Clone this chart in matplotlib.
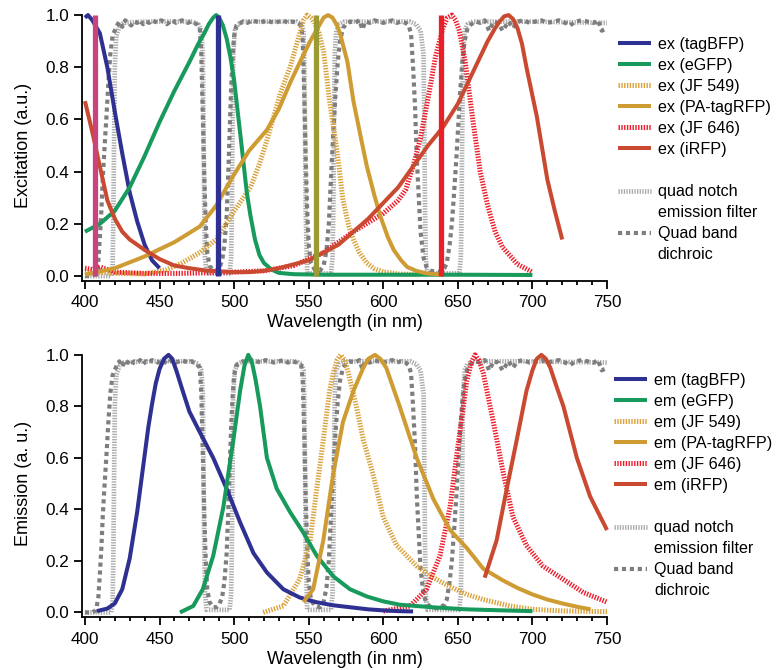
import matplotlib
matplotlib.use("Agg")
import matplotlib.pyplot as plt
from matplotlib.lines import Line2D

plt.rcParams["font.family"] = ["Liberation Sans", "DejaVu Sans"]

# ---- filters (same curves in both panels), one line per band ----
notch_nm = [400, 417.5, 418.5, 419, 419.5, 420, 421, 423, 426, 440, 460, 472, 476, 478, 479, 479.5,
            480, 480.5, 481.5, 497, 498, 498.5, 499, 499.5, 500.5, 502.5, 506, 530, 542, 545, 546.5,
            547, 547.5, 548, 549, 565, 566, 566.5, 567, 567.5, 568.5, 570.5, 574, 600, 618, 622,
            625, 627, 627.5, 628, 628.5, 629.5, 651, 652, 652.5, 653, 653.5, 654.5, 656.5, 660, 700, 750]
notch = [0.0, 0.0, 0.03, 0.2, 0.5, 0.8, 0.92, 0.955, 0.97, 0.975, 0.975, 0.975, 0.965, 0.94, 0.85, 0.6,
         0.25, 0.07, 0.01, 0.01, 0.07, 0.25, 0.6, 0.85, 0.94, 0.965, 0.975, 0.975, 0.975, 0.965, 0.94,
         0.85, 0.6, 0.25, 0.01, 0.01, 0.07, 0.25, 0.6, 0.85, 0.94, 0.965, 0.975, 0.975, 0.975, 0.965,
         0.94, 0.85, 0.6, 0.25, 0.07, 0.01, 0.01, 0.07, 0.25, 0.6, 0.85, 0.94, 0.965, 0.975, 0.975, 0.97]

dichroic_nm = [
    400, 405, 407.5, 409, 410, 411, 412, 413, 414.5, 415.7, 417, 418.5,
    421, 423, 425, 427, 429, 431, 433, 435, 437, 439, 441, 443, 445, 447, 449, 451, 453, 455, 457, 459,
    461, 463, 465, 467, 469, 471, 473, 475,
    477, 478, 479, 480, 481, 482, 483.5, 486, 488, 490, 492, 493.5, 495, 496, 497, 498, 499, 500, 501.5,
    503, 506, 509, 512, 515, 518, 521, 524, 527, 530, 533, 536, 539, 542,
    545, 546, 547, 548, 549, 550, 551.5, 554, 557.5, 560, 562, 563.5, 565, 566.5, 568, 569.5, 571, 573,
    575, 578, 581, 584, 586, 588, 591, 594, 597, 600, 603, 606, 609, 612, 615,
    617, 618.6, 620, 621.3, 622.5, 623.6, 625, 627, 629, 632, 637, 641, 642.6, 644.5, 646, 647.5, 649,
    650.3, 651.5, 653, 654.5, 656.5,
    659, 662, 665, 668, 671, 674, 677, 680, 684, 687, 690, 694, 698, 702, 706, 710, 714, 718, 722, 725,
    729, 733, 737, 741, 744, 746.5, 750,
]
dichroic = [
    0.0, 0.0, 0.01, 0.06, 0.15, 0.25, 0.38, 0.48, 0.62, 0.74, 0.85, 0.92,
    0.955, 0.975, 0.955, 0.98, 0.97, 0.96, 0.975, 0.97, 0.98, 0.965, 0.975, 0.97, 0.98, 0.975, 0.97,
    0.98, 0.975, 0.965, 0.975, 0.98, 0.97, 0.975, 0.98, 0.975, 0.97, 0.975, 0.97, 0.965,
    0.95, 0.85, 0.62, 0.38, 0.2, 0.09, 0.04, 0.02, 0.02, 0.03, 0.06, 0.12, 0.23, 0.38, 0.55, 0.72, 0.84,
    0.92, 0.96,
    0.965, 0.975, 0.97, 0.98, 0.975, 0.97, 0.98, 0.975, 0.97, 0.975, 0.98, 0.97, 0.975, 0.97,
    0.96, 0.9, 0.7, 0.45, 0.25, 0.12, 0.05, 0.025, 0.02, 0.04, 0.1, 0.2, 0.38, 0.55, 0.7, 0.82, 0.9, 0.95,
    0.965, 0.975, 0.97, 0.98, 0.945, 0.975, 0.97, 0.98, 0.975, 0.97, 0.975, 0.98, 0.97, 0.975, 0.97,
    0.96, 0.93, 0.8, 0.65, 0.45, 0.33, 0.17, 0.07, 0.035, 0.02, 0.015, 0.03, 0.05, 0.12, 0.2, 0.32, 0.45,
    0.58, 0.7, 0.82, 0.9, 0.95,
    0.965, 0.975, 0.97, 0.98, 0.94, 0.975, 0.97, 0.94, 0.975, 0.95, 0.975, 0.98, 0.97, 0.975, 0.98, 0.97,
    0.975, 0.98, 0.97, 0.96, 0.975, 0.98, 0.975, 0.97, 0.98, 0.94, 0.95,
]

# ---- lasers (top panel) ----
laser_nm = [407, 489, 555, 639]

# ---- excitation spectra ----
tagbfp_ex_nm = [400, 402, 405, 410, 415, 420, 425, 430, 435, 440, 445, 450]
tagbfp_ex = [0.99, 1.0, 0.98, 0.93, 0.80, 0.63, 0.47, 0.32, 0.21, 0.12, 0.06, 0.03]

egfp_ex_nm = [400, 410, 420, 430, 440, 450, 460, 470, 476, 480, 483, 486, 488, 490, 492.5, 495, 497.5,
              500, 505, 508.5, 511, 514, 517, 520, 525, 530, 540, 560, 600, 650, 700]
egfp_ex = [0.17, 0.20, 0.25, 0.34, 0.46, 0.59, 0.71, 0.82, 0.89, 0.93, 0.965, 0.99, 1.0, 0.99, 0.96,
           0.91, 0.84, 0.75, 0.50, 0.32, 0.23, 0.14, 0.08, 0.05, 0.025, 0.012, 0.007, 0.005, 0.005,
           0.005, 0.004]

jf549_ex_nm = [400, 420, 440, 455, 465, 477, 488, 499, 511, 517, 522, 531, 537.5, 541, 544, 546.5, 549,
               551.5, 554, 557, 560, 564, 569, 573, 577, 580, 584, 589, 594, 600, 610, 625]
jf549_ex = [0.02, 0.01, 0.008, 0.025, 0.05, 0.09, 0.14, 0.24, 0.34, 0.43, 0.52, 0.70, 0.80, 0.87, 0.93,
            0.98, 1.0, 0.99, 0.97, 0.93, 0.86, 0.67, 0.48, 0.29, 0.19, 0.14, 0.09, 0.05, 0.028, 0.016,
            0.008, 0.005]

patagrfp_ex_nm = [400, 420, 440, 460, 470, 477, 488, 499, 510, 522, 530, 537.5, 545, 551, 557, 560, 563,
                  566, 569, 571, 576, 580, 585, 589, 594, 598, 603, 607, 612, 616, 622, 629, 640]
patagrfp_ex = [0.005, 0.03, 0.075, 0.13, 0.165, 0.19, 0.27, 0.38, 0.48, 0.56, 0.64, 0.74, 0.83, 0.90,
               0.96, 0.99, 1.0, 0.99, 0.96, 0.93, 0.82, 0.67, 0.53, 0.42, 0.31, 0.23, 0.15, 0.10, 0.06,
               0.035, 0.02, 0.01, 0.005]

jf646_ex_nm = [400, 405, 410, 415, 420, 440, 460, 480, 500, 520, 540, 560, 580, 600, 610, 615, 620, 625,
               630, 635, 640, 643, 646, 648.5, 651, 655, 660, 665, 670, 675, 680, 690, 700]
jf646_ex = [0.03, 0.025, 0.035, 0.025, 0.015, 0.01, 0.01, 0.012, 0.015, 0.02, 0.04, 0.09, 0.17, 0.24,
            0.29, 0.33, 0.42, 0.53, 0.68, 0.84, 0.95, 0.99, 1.0, 0.98, 0.94, 0.82, 0.60, 0.40, 0.27,
            0.17, 0.11, 0.045, 0.015]

irfp_ex_nm = [400, 405, 410, 415, 420, 425, 430, 440, 450, 460, 470, 480, 490, 500, 510, 520, 530, 540,
              550, 560, 570, 580, 590, 600, 610, 620, 630, 640, 650, 660, 670, 675, 678, 681, 684, 687,
              690, 693, 696, 703, 710, 715, 720]
irfp_ex = [0.67, 0.55, 0.42, 0.29, 0.22, 0.17, 0.14, 0.10, 0.065, 0.04, 0.03, 0.022, 0.018, 0.015,
           0.015, 0.02, 0.03, 0.045, 0.06, 0.09, 0.12, 0.17, 0.22, 0.28, 0.34, 0.42, 0.50, 0.57, 0.66,
           0.78, 0.90, 0.95, 0.975, 0.995, 1.0, 0.985, 0.95, 0.89, 0.80, 0.61, 0.37, 0.25, 0.14]

# ---- emission spectra ----
tagbfp_em_nm = [408, 415, 420, 425, 430, 435, 440, 442.5, 445, 447.5, 450, 453, 456, 458.5, 461.5, 465,
                470, 477, 486, 495, 504, 513, 522, 533, 544, 555, 566, 578, 590, 600, 610, 620]
tagbfp_em = [0.005, 0.015, 0.035, 0.09, 0.21, 0.39, 0.61, 0.72, 0.81, 0.89, 0.945, 0.985, 1.0, 0.985,
             0.935, 0.87, 0.78, 0.70, 0.60, 0.48, 0.35, 0.23, 0.155, 0.09, 0.058, 0.04, 0.028, 0.02,
             0.012, 0.008, 0.005, 0.004]

egfp_em_nm = [463.7, 472.6, 479, 486, 492.8, 499.5, 504, 507, 509.5, 512, 514.5, 517.4, 522, 528.6, 537.5,
              546.4, 555.4, 566.5, 577.7, 589, 600, 611, 633, 656, 680, 700]
egfp_em = [0.0, 0.025, 0.09, 0.22, 0.41, 0.67, 0.86, 0.96, 1.0, 0.97, 0.90, 0.80, 0.60, 0.48, 0.39,
           0.31, 0.22, 0.14, 0.09, 0.062, 0.043, 0.03, 0.02, 0.012, 0.008, 0.005]

jf549_em_nm = [519.5, 533, 544, 551, 555.4, 559.8, 564, 566.5, 569, 571.5, 574, 576.6, 582, 586.6, 593,
               600, 609, 622.4, 633.6, 644.8, 656, 667, 685, 700, 720, 750]
jf549_em = [0.0, 0.025, 0.13, 0.28, 0.48, 0.67, 0.86, 0.93, 0.98, 1.0, 0.98, 0.93, 0.80, 0.67, 0.54,
            0.37, 0.26, 0.18, 0.135, 0.10, 0.07, 0.05, 0.025, 0.012, 0.006, 0.003]

patagrfp_em_nm = [546.4, 553, 559.8, 566.5, 573, 580, 586.6, 590, 594.5, 598, 602, 611, 622.4, 633.6,
                  644.8, 656, 667, 680, 690, 700, 710, 720, 730, 739]
patagrfp_em = [0.04, 0.09, 0.28, 0.54, 0.74, 0.86, 0.95, 0.985, 1.0, 0.985, 0.95, 0.80, 0.60, 0.44,
               0.32, 0.25, 0.17, 0.125, 0.095, 0.07, 0.05, 0.035, 0.022, 0.012]

jf646_em_nm = [600, 618, 629, 638, 644.8, 649, 653.7, 656, 659, 661.5, 664, 667, 673.8, 680.5, 687, 696,
               707, 720.8, 734, 750]
jf646_em = [0.005, 0.025, 0.09, 0.22, 0.41, 0.60, 0.80, 0.90, 0.97, 1.0, 0.98, 0.93, 0.74, 0.54, 0.37,
            0.26, 0.18, 0.128, 0.078, 0.04]

irfp_em_nm = [668, 676, 682.8, 689.5, 696, 700, 703, 706, 709, 712, 716, 720.8, 729.8, 738.7, 750]
irfp_em = [0.135, 0.28, 0.48, 0.67, 0.86, 0.94, 0.985, 1.0, 0.985, 0.95, 0.88, 0.80, 0.60, 0.45, 0.32]

names = ["tagBFP", "eGFP", "JF 549", "PA-tagRFP", "JF 646", "iRFP"]
ex_data = [(tagbfp_ex_nm, tagbfp_ex), (egfp_ex_nm, egfp_ex), (jf549_ex_nm, jf549_ex),
           (patagrfp_ex_nm, patagrfp_ex), (jf646_ex_nm, jf646_ex), (irfp_ex_nm, irfp_ex)]
em_data = [(tagbfp_em_nm, tagbfp_em), (egfp_em_nm, egfp_em), (jf549_em_nm, jf549_em),
           (patagrfp_em_nm, patagrfp_em), (jf646_em_nm, jf646_em), (irfp_em_nm, irfp_em)]

# styles
HATCH = (0, (0.28, 0.28))
DOTS = (0, (1, 0.9))
colors = ["#2E3192", "#179A5B", "#D9A23C", "#CF9B33", "#EE1C2B", "#C94A30"]
hatched = [False, False, True, False, True, False]
laser_colors = ["#C8457C", "#2E3192", "#9B9A33", "#E8202A"]
NOTCH_COLOR = "#A9A9A9"
DICHROIC_COLOR = "#7E7E7E"


def draw_panel(ax, data, prefix, ylabel, lasers):
    ax.plot(notch_nm, notch, color=NOTCH_COLOR, lw=3.4, linestyle=HATCH, zorder=1, clip_on=False)
    ax.plot(dichroic_nm, dichroic, color=DICHROIC_COLOR, lw=3.0, linestyle=DOTS, zorder=2, clip_on=False)
    handles = []
    for (nm, vals), name, col, hat in zip(data, names, colors, hatched):
        if hat:
            ln, = ax.plot(nm, vals, color=col, lw=3.6, linestyle=HATCH, zorder=3, clip_on=False)
        else:
            ln, = ax.plot(nm, vals, color=col, lw=2.9, solid_capstyle="butt", solid_joinstyle="round",
                          zorder=4, clip_on=False)
        ln.set_label(f"{prefix} ({name})")
        handles.append(ln)
    if lasers:
        for x, c in zip(laser_nm, laser_colors):
            ax.vlines(x, 0, 1.0, color=c, lw=3.8, zorder=5)

    ax.set_xlim(398, 750)
    ax.set_ylim(-0.018, 1.02)
    ax.spines["left"].set_bounds(-0.018, 1.0)
    for s in ["top", "right"]:
        ax.spines[s].set_visible(False)
    for s in ["left", "bottom"]:
        ax.spines[s].set_linewidth(1.3)
    ax.set_xticks(range(400, 751, 50))
    ax.set_xticks(range(400, 751, 10), minor=True)
    ax.set_yticks([0.0, 0.2, 0.4, 0.6, 0.8, 1.0])
    ax.set_yticklabels(["0.0", "0.2", "0.4", "0.6", "0.8", "1.0"])
    ax.tick_params(axis="both", which="major", direction="out", length=5.5, width=1.3,
                   labelsize=12.3)
    ax.tick_params(axis="x", which="major", pad=5)
    ax.tick_params(axis="y", which="major", pad=3.5)
    ax.tick_params(axis="x", which="minor", direction="out", length=3, width=1.3)
    ax.set_xlabel("Wavelength (in nm)", fontsize=13, labelpad=3)
    ax.set_ylabel(ylabel, fontsize=13, labelpad=10)

    blank = Line2D([], [], color="none")
    notch_h = Line2D([], [], color=NOTCH_COLOR, lw=3.4, linestyle=HATCH)
    dich_h = Line2D([], [], color=DICHROIC_COLOR, lw=3.0, linestyle=DOTS)
    all_h = handles + [blank, notch_h, blank, dich_h, blank]
    all_l = [h.get_label() for h in handles] + [" ", "quad notch", "emission filter",
                                                "Quad band", "dichroic"]
    return all_h, all_l


fig = plt.figure(figsize=(7.77, 6.70), dpi=100)
ax1 = fig.add_axes([0.1055, 0.5810, 0.6757, 0.4043])
ax2 = fig.add_axes([0.1055, 0.0790, 0.6757, 0.3990])

h1, l1 = draw_panel(ax1, ex_data, "ex", "Excitation (a.u.)", True)
h2, l2 = draw_panel(ax2, em_data, "em", "Emission (a. u.)", False)

leg_kw = dict(loc="upper left", frameon=False, fontsize=11.6, handlelength=2.05, handletextpad=0.42,
              labelspacing=0.375, borderpad=0, borderaxespad=0)
fig.legend(h1, l1, bbox_to_anchor=(0.7954, 0.945), **leg_kw)
fig.legend(h2, l2, bbox_to_anchor=(0.7905, 0.4435), **leg_kw)

fig.savefig("out.png", dpi=100)
